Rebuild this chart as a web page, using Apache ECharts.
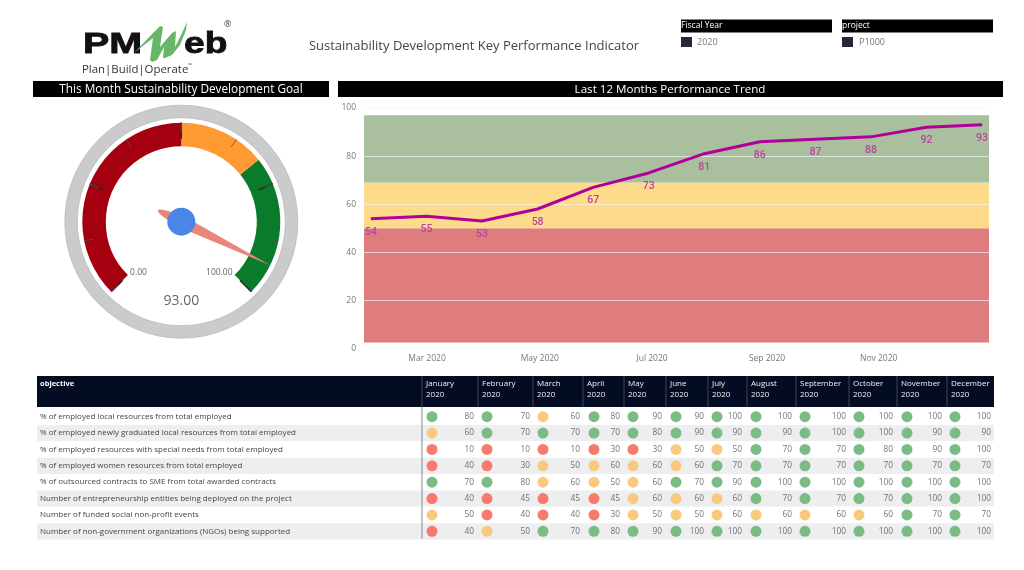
<!DOCTYPE html>
<html>

<head>
    <meta charset="utf-8">
    <script src="https://cdn.jsdelivr.net/npm/echarts@6/dist/echarts.min.js"></script>
    <style>
        html, body { margin: 0; padding: 0; background: #fff; }
    </style>
</head>

<body>
<div id="echartsMain" style="width: 1024px; height: 570px;"></div>
</body>

</html>

<script type="text/javascript">
    // gauge
    let gaugeValue = 93
    let gaugeStops = [0.5, 0.69, 1]
    let gaugeColors = ['#a5000f', '#ff9a33', '#0a7b2a']

    // trend, one point per month end
    let trendValues = [54, 55, 53, 58, 67, 73, 81, 86, 87, 88, 92, 93]
    let trendTickLabels = ['Mar 2020', 'May 2020', 'Jul 2020', 'Sep 2020', 'Nov 2020']
    let trendTickAt = [1.01, 3.04, 5.06, 7.13, 9.14]
    let bandLimits = [2.5, 50, 69, 97]
    let bandColors = ['#df7c7e', '#fedb8b', '#a9bf9d']

    // table
    let tableMonths = ['January', 'February', 'March', 'April', 'May', 'June', 'July', 'August',
        'September', 'October', 'November', 'December']
    let objectives = [
        '% of employed local resources from total employed',
        '% of employed newly graduated local resources from total employed',
        '% of employed resources with special needs from total employed',
        '% of employed women resources from total employed',
        '% of outsourced contracts to SME from total awarded contracts',
        'Number of entrepreneurship entities being deployed on the project',
        'Number of funded social non-profit events',
        'Number of non-government organizations (NGOs) being supported'
    ]
    let row1 = [80, 70, 60, 80, 90, 90, 100, 100, 100, 100, 100, 100]
    let row2 = [60, 70, 70, 70, 80, 90, 90, 90, 100, 100, 90, 90]
    let row3 = [10, 10, 10, 30, 30, 50, 50, 70, 70, 80, 90, 100]
    let row4 = [40, 30, 50, 60, 60, 60, 70, 70, 70, 70, 70, 70]
    let row5 = [70, 80, 60, 50, 60, 70, 90, 100, 100, 100, 100, 100]
    let row6 = [40, 45, 45, 45, 60, 60, 60, 70, 70, 70, 100, 100]
    let row7 = [50, 40, 40, 30, 50, 50, 60, 60, 60, 60, 70, 70]
    let row8 = [40, 50, 70, 80, 90, 100, 100, 100, 100, 100, 100, 100]
    let tableRows = [row1, row2, row3, row4, row5, row6, row7, row8]

    // table column layout, in page pixels
    let colLeft = [422, 478, 533, 583, 624, 666, 708, 747, 796, 849, 897, 947]
    let colDot = [432, 487, 543, 594, 633, 676, 717, 756, 805, 859, 907, 955]
    let colRight = [474, 530, 580, 620, 662, 704, 742, 792, 846, 893, 942, 991]

    function statusColor(v) {
        if (v < 50) return '#f87a6c'
        if (v < 70) return '#fbc87f'
        return '#7dbb85'
    }

    function label(text, x, y, size, fill, extra) {
        return {
            type: 'text',
            z: 10,
            ...extra,
            style: {
                text: text, x: x, y: y, fill: fill,
                font: size + 'px "Open Sans"',
                verticalAlign: 'middle',
                ...(extra && extra.style)
            }
        }
    }

    function bar(x, y, w, h, fill) {
        return {type: 'rect', z: 5, shape: {x: x, y: y, width: w, height: h}, style: {fill: fill}}
    }

    function draw() {
        let myChart = echarts.init(document.getElementById('echartsMain'))

        let dots = []
        let values = []
        tableRows.forEach((row, r) => {
            row.forEach((v, m) => {
                dots.push({value: [colDot[m], objectives[r]], itemStyle: {color: statusColor(v), opacity: 1}})
                values.push({value: [colRight[m], objectives[r]], label: {formatter: String(v)}})
            })
        })

        let areas = bandColors.map((c, i) => [
            {yAxis: bandLimits[i], itemStyle: {color: c, opacity: 1}},
            {yAxis: bandLimits[i + 1]}
        ])

        let graphics = [
            // logo
            label('PM', 83, 45, 29, '#111', {
                scaleX: 1.36, originX: 83, originY: 45,
                style: {font: 'bold 29px "Liberation Sans"', stroke: '#111', lineWidth: 0.8}
            }),
            label('eb', 184, 45, 29, '#111', {
                scaleX: 1.28, originX: 184, originY: 45,
                style: {font: 'bold 29px "Liberation Sans"', stroke: '#111', lineWidth: 0.8}
            }),
            {
                type: 'polygon', z: 11,
                shape: {
                    points: [[134, 53], [155, 31], [160, 26], [163, 27], [160, 47], [172, 33],
                        [176, 31], [175, 47], [182, 33], [187, 22], [186, 30], [180, 45],
                        [172, 55], [165, 58], [163, 58], [164, 47], [157, 60], [152, 62],
                        [150, 60], [153, 38]]
                },
                style: {fill: '#66b868'}
            },
            label('®', 224, 24, 9, '#444'),
            label('Plan|Build|Operate', 82, 69.5, 11.4, '#333'),
            label('™', 188, 66, 5, '#333'),
            // page title
            label('Sustainability Development Key Performance Indicator', 474, 46, 13, '#444',
                {style: {align: 'center'}}),
            // slicers
            bar(681, 19.5, 151, 13, '#000'),
            label('Fiscal Year', 681, 26, 8.5, '#fff'),
            bar(681, 37, 11, 10, '#232936'),
            label('2020', 697, 42, 9, '#777'),
            bar(842, 19.5, 151, 13, '#000'),
            label('project', 842, 26, 8.5, '#fff'),
            bar(842, 37, 11, 10, '#232936'),
            label('P1000', 859, 42, 9, '#777'),
            // panel headers
            bar(33, 81, 296, 16, '#000'),
            label('This Month Sustainability Development Goal', 181, 90, 11.8, '#fff',
                {style: {align: 'center'}}),
            bar(338, 81, 665, 16, '#000'),
            label('Last 12 Months Performance Trend', 670, 90, 11.6, '#fff',
                {style: {align: 'center'}}),
            // gauge bezel
            {
                type: 'ring', z: 0,
                shape: {cx: 181.3, cy: 221.7, r: 116.5, r0: 104},
                style: {fill: '#cbcbcb', stroke: '#b5b5b5', lineWidth: 0.7}
            },
            // table header
            bar(37, 376, 957, 31, '#040c24'),
            label('objective', 40, 384, 7.5, '#fff', {style: {font: 'bold 7.5px "Open Sans"'}}),
            {
                type: 'line', z: 6,
                shape: {x1: 422, y1: 407, x2: 422, y2: 539},
                style: {stroke: '#9a9a9a', lineWidth: 1.2}
            }
        ]
        tableMonths.forEach((m, i) => {
            graphics.push({
                type: 'line', z: 6,
                shape: {x1: colLeft[i], y1: 376, x2: colLeft[i], y2: 407},
                style: {stroke: '#59606f', lineWidth: 0.7}
            })
            graphics.push(label(m, colLeft[i] + 4, 384, 8, '#f0f0f0'))
            graphics.push(label('2020', colLeft[i] + 4, 395, 8, '#f0f0f0'))
        })

        var option = {
            animation: false,
            backgroundColor: '#fff',
            textStyle: {fontFamily: 'Open Sans'},
            graphic: graphics,
            grid: [
                {left: 364, top: 108, width: 625, height: 240.5},
                {left: 37, top: 408.5, width: 957, height: 131}
            ],
            xAxis: [
                {
                    type: 'value',
                    gridIndex: 0,
                    min: -0.125,
                    max: 11.125,
                    splitLine: {show: false},
                    axisLine: {show: false},
                    axisTick: {show: false},
                    axisLabel: {
                        customValues: trendTickAt,
                        formatter: v => trendTickLabels[trendTickAt.indexOf(v)],
                        color: '#777',
                        fontSize: 8.5,
                        margin: 6
                    }
                },
                {
                    type: 'value',
                    gridIndex: 1,
                    min: 37,
                    max: 994,
                    show: false
                }
            ],
            yAxis: [
                {
                    type: 'value',
                    gridIndex: 0,
                    min: 0,
                    max: 100,
                    interval: 20,
                    z: 3,
                    axisLine: {show: false},
                    axisTick: {show: false},
                    axisLabel: {color: '#777', fontSize: 8.5, margin: 8},
                    splitLine: {lineStyle: {color: 'rgba(244,244,244,0.7)', width: 1}}
                },
                {
                    type: 'category',
                    gridIndex: 1,
                    inverse: true,
                    data: objectives,
                    axisLine: {show: false},
                    axisTick: {show: false},
                    splitLine: {show: false},
                    splitArea: {show: true, areaStyle: {color: ['#ffffff', '#eceef0']}},
                    axisLabel: {inside: true, margin: 3, color: '#444', fontSize: 8}
                }
            ],
            series: [
                {
                    type: 'gauge',
                    center: [181.3, 221.7],
                    radius: 99,
                    startAngle: 225,
                    endAngle: -45,
                    min: 0,
                    max: 100,
                    splitNumber: 4,
                    z: 3,
                    axisLine: {
                        lineStyle: {
                            width: 23.5,
                            color: gaugeStops.map((s, i) => [s, gaugeColors[i]])
                        }
                    },
                    splitLine: {distance: -23.5, length: 16, lineStyle: {color: '#2b2b2b', width: 1.5}},
                    axisTick: {distance: -23.5, length: 9, splitNumber: 2, lineStyle: {color: '#555', width: 0.8}},
                    axisLabel: {
                        distance: 34,
                        color: '#666',
                        fontSize: 8.5,
                        formatter: v => (v === 0 || v === 100) ? v.toFixed(2) : ''
                    },
                    pointer: {
                        icon: 'path://M5 0 L10 99 Q8 125 5 125 Q2 125 0 99 Z',
                        length: 125,
                        width: 12,
                        offsetCenter: [0, 26],
                        itemStyle: {color: '#e8867a'}
                    },
                    anchor: {
                        show: true,
                        showAbove: true,
                        size: 28,
                        itemStyle: {color: '#4a86e8', borderWidth: 0}
                    },
                    title: {show: false},
                    detail: {
                        offsetCenter: [0, 79],
                        color: '#666',
                        fontSize: 14,
                        fontWeight: 'normal',
                        formatter: v => v.toFixed(2)
                    },
                    data: [{value: gaugeValue}]
                },
                {
                    type: 'line',
                    xAxisIndex: 0,
                    yAxisIndex: 0,
                    z: 5,
                    symbol: 'circle',
                    symbolSize: 1,
                    itemStyle: {color: '#b0009a'},
                    lineStyle: {color: '#b0009a', width: 3},
                    label: {
                        show: true,
                        position: 'bottom',
                        distance: 7.5,
                        color: '#b8459f',
                        fontFamily: 'Roboto',
                        fontWeight: 500,
                        fontSize: 10.5
                    },
                    markArea: {silent: true, z: 1, data: areas},
                    data: trendValues.map((v, i) => [i, v])
                },
                {
                    type: 'scatter',
                    xAxisIndex: 1,
                    yAxisIndex: 1,
                    symbolSize: 11,
                    data: dots
                },
                {
                    type: 'scatter',
                    xAxisIndex: 1,
                    yAxisIndex: 1,
                    symbolSize: 0,
                    label: {show: true, position: 'left', distance: 0, color: '#505050', fontSize: 8.3},
                    data: values
                }
            ]
        }
        myChart.setOption(option)
    }

    draw()
</script>
